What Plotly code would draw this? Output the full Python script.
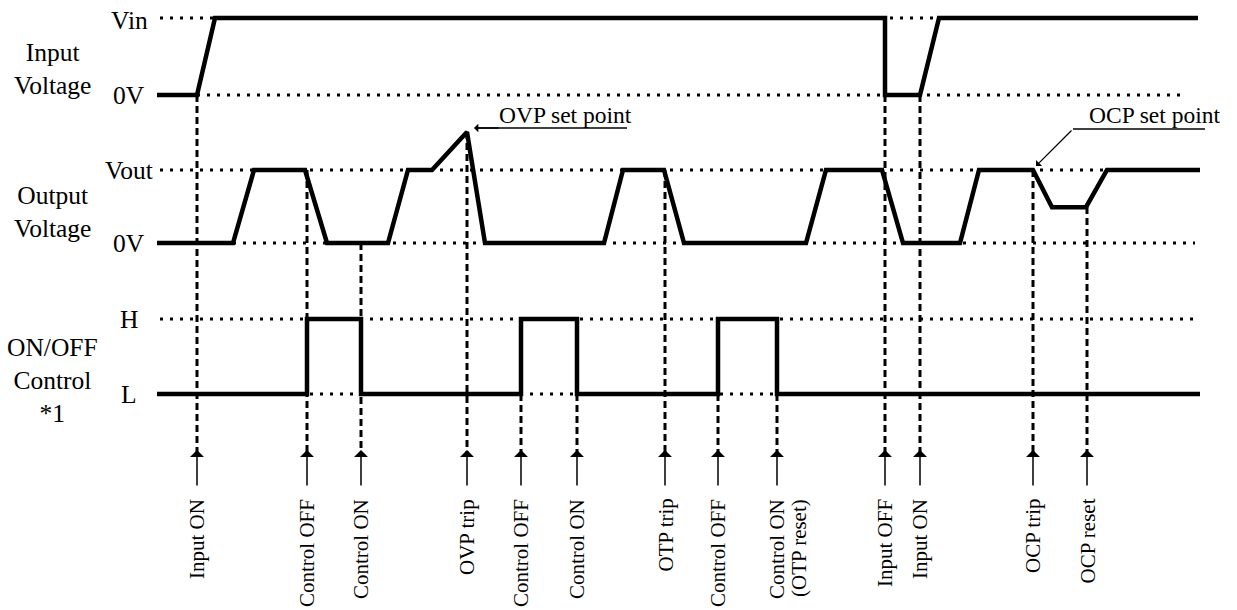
import plotly.graph_objects as go

# channel levels (y position of low / high rail on the drawing)
input_levels = {"low": 95, "high": 18}
output_levels = {"low": 243, "high": 170}
control_levels = {"low": 394, "high": 319}

# waveforms: time points and level (fraction of the high rail)
input_t = [157, 197, 215, 885, 885, 920, 939, 1198]
input_v = [0, 0, 1, 1, 0, 0, 1, 1]

output_t = [157, 233, 254, 305, 327, 388, 408, 432, 467, 485, 604, 623, 664, 684,
            806, 826, 882, 903, 960, 979, 1033, 1052, 1086, 1107, 1200]
output_v = [0, 0, 1, 1, 0, 0, 1, 1, 1.52, 0, 0, 1, 1, 0,
            0, 1, 1, 0, 0, 1, 1, 0.49, 0.49, 1, 1]

control_t = [157, 307, 307, 361, 361, 521, 521, 577, 577, 718, 718, 777, 777, 1200]
control_v = [0, 0, 1, 1, 0, 0, 1, 1, 0, 0, 1, 1, 0, 0]

# events: time, label, y where the dashed marker starts
event_t = [197, 307, 361, 467, 521, 577, 665, 718, 777, 885, 920, 1033, 1087]
event_labels = ["Input ON", "Control OFF", "Control ON", "OVP trip", "Control OFF",
                "Control ON", "OTP trip", "Control OFF", "Control ON", "Input OFF",
                "Input ON", "OCP trip", "OCP reset"]
event_start = [95, 170, 243, 132, 394, 394, 170, 394, 394, 95, 95, 170, 207]


def to_y(levels, v):
    return [levels["low"] - f * (levels["low"] - levels["high"]) for f in v]


FONT = "Liberation Serif, Times New Roman, serif"
DOT = "3px,7px"
DASH = "7px,4px"

fig = go.Figure()

# dotted reference rails
rails = [
    (160, 1195, 18), (197, 1187, 95),
    (160, 1195, 170), (233, 1195, 243),
    (160, 1193, 319), (160, 1193, 394),
]
rx, ry = [], []
for x0, x1, y in rails:
    rx += [x0, x1, None]
    ry += [y, y, None]
fig.add_trace(go.Scatter(x=rx, y=ry, mode="lines",
                         line=dict(color="black", width=3, dash=DOT),
                         hoverinfo="skip", showlegend=False))

# dashed event lines
dx, dy = [], []
for t, y0 in zip(event_t, event_start):
    dx += [t, t, None]
    dy += [y0, 452, None]
fig.add_trace(go.Scatter(x=dx, y=dy, mode="lines",
                         line=dict(color="black", width=3, dash=DASH),
                         hoverinfo="skip", showlegend=False))

# waveforms
for t, v, lv in [(input_t, input_v, input_levels),
                 (output_t, output_v, output_levels),
                 (control_t, control_v, control_levels)]:
    fig.add_trace(go.Scatter(x=t, y=to_y(lv, v), mode="lines",
                             line=dict(color="black", width=4.5),
                             hoverinfo="skip", showlegend=False))

# set point leader lines
fig.add_trace(go.Scatter(x=[627, 478, None, 1205, 1073], y=[128, 128, None, 129, 129],
                         mode="lines", line=dict(color="black", width=1.3),
                         hoverinfo="skip", showlegend=False))

ann = []
# bottom arrows and labels
for t, lab in zip(event_t, event_labels):
    ann.append(dict(x=t, y=450, ax=t, ay=487, xref="x", yref="y", axref="x", ayref="y",
                    text="", showarrow=True, arrowhead=1, arrowsize=1.55, arrowwidth=1.5,
                    arrowcolor="black"))
    ann.append(dict(x=t, y=497, xref="x", yref="y", text=lab, showarrow=False,
                    textangle=-90, xanchor="center", yanchor="top",
                    font=dict(family=FONT, size=21, color="black")))
ann.append(dict(x=777 + 22, y=497, xref="x", yref="y", text="(OTP reset)",
                showarrow=False, textangle=-90, xanchor="center", yanchor="top",
                font=dict(family=FONT, size=21, color="black")))

# set point arrows
ann.append(dict(x=474, y=128, ax=500, ay=128, xref="x", yref="y", axref="x", ayref="y",
                text="", showarrow=True, arrowhead=1, arrowsize=1.1, arrowwidth=1.3,
                arrowcolor="black"))
ann.append(dict(x=1036, y=166, ax=1073, ay=129, xref="x", yref="y", axref="x", ayref="y",
                text="", showarrow=True, arrowhead=1, arrowsize=1.1, arrowwidth=1.3,
                arrowcolor="black"))
ann.append(dict(x=565, y=115, xref="x", yref="y", text="OVP set point", showarrow=False,
                xanchor="center", yanchor="middle",
                font=dict(family=FONT, size=23.5, color="black")))
ann.append(dict(x=1222, y=115, xref="x", yref="y", text="OCP set point", showarrow=False,
                xanchor="right", yanchor="middle",
                font=dict(family=FONT, size=23.5, color="black")))

# level labels
level_labels = [("Vin", 20), ("0V", 95), ("Vout", 170), ("0V", 243), ("H", 319), ("L", 394)]
for lab, y in level_labels:
    ann.append(dict(x=129, y=y, xref="x", yref="y", text=lab, showarrow=False,
                    xanchor="center", yanchor="middle", borderpad=0,
                    font=dict(family=FONT, size=25.5, color="black")))

# channel names
channel_names = [("Input<br>Voltage", 69), ("Output<br>Voltage", 212),
                 ("ON/OFF<br>Control<br>*1", 380)]
for lab, y in channel_names:
    ann.append(dict(x=52, y=y, xref="x", yref="y", text=lab, showarrow=False,
                    xanchor="center", yanchor="middle", align="center",
                    font=dict(family=FONT, size=25.5, color="black")))

fig.update_layout(
    width=1237, height=610,
    margin=dict(l=0, r=0, t=0, b=0),
    paper_bgcolor="white", plot_bgcolor="white",
    xaxis=dict(range=[0, 1237], visible=False, fixedrange=True),
    yaxis=dict(range=[610, 0], visible=False, fixedrange=True),
    annotations=ann,
)

# drop the default 8px page margin so the figure sits at the window corner
fig.write_html("out.html", config={"displayModeBar": False},
               post_script="document.body.style.margin='0';")
